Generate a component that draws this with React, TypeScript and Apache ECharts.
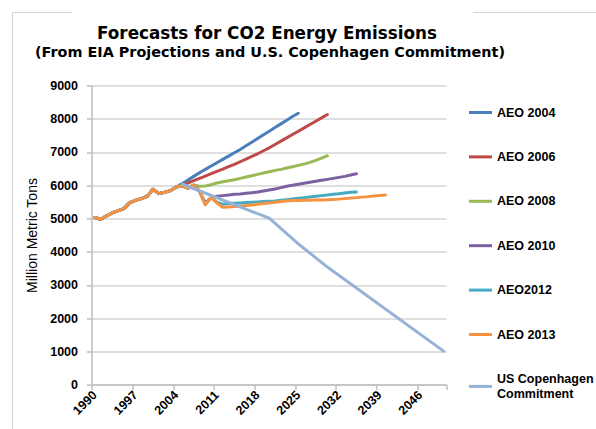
import React, { useEffect, useRef } from "react";
import * as echarts from "echarts";

// Category years 1990..2050
const years: string[] = Array.from({ length: 61 }, (_, i) => String(1990 + i));

// Historical emissions 1990..2011 (million metric tons)
const history = [
  5040, 4990, 5090, 5180, 5250, 5310, 5490, 5560, 5610, 5680, 5890, 5760, 5800,
  5850, 5960, 6000, 5920, 6020, 5830, 5430, 5640, 5480,
];

// Projections (first value = first projection year)
const aeo2004Start = 2005;
const aeo2004 = [
  6060, 6170, 6280, 6390, 6490, 6590, 6690, 6790, 6890, 6990, 7090, 7200, 7310,
  7420, 7530, 7640, 7750, 7860, 7970, 8080, 8180,
];
const aeo2006Start = 2005;
const aeo2006 = [
  6010, 6080, 6150, 6220, 6290, 6360, 6430, 6500, 6570, 6640, 6720, 6800, 6880,
  6960, 7050, 7140, 7240, 7340, 7440, 7540, 7640, 7740, 7840, 7940, 8040, 8140,
];
const aeo2008Start = 2006;
const aeo2008 = [
  5960, 6010, 5980, 5990, 6030, 6080, 6120, 6150, 6180, 6220, 6260, 6300, 6340,
  6380, 6420, 6460, 6490, 6530, 6570, 6610, 6650, 6700, 6760, 6830, 6900,
];
const aeo2010Start = 2009;
const aeo2010 = [
  5480, 5640, 5680, 5700, 5720, 5740, 5750, 5770, 5790, 5810, 5840, 5870, 5900,
  5940, 5980, 6010, 6040, 6070, 6100, 6130, 6160, 6190, 6220, 6250, 6280, 6320,
  6360,
];
const aeo2012Start = 2011;
const aeo2012 = [
  5500, 5440, 5460, 5470, 5480, 5490, 5500, 5510, 5520, 5530, 5540, 5560, 5580,
  5600, 5620, 5640, 5660, 5680, 5700, 5720, 5740, 5760, 5780, 5800, 5810,
];
const aeo2013Start = 2012;
const aeo2013 = [
  5350, 5360, 5370, 5380, 5400, 5420, 5440, 5460, 5480, 5500, 5520, 5540, 5550,
  5555, 5560, 5560, 5565, 5570, 5575, 5580, 5595, 5610, 5625, 5640, 5655, 5670,
  5690, 5705, 5720,
];
const copenhagenYears = ["2005", "2020", "2025", "2030", "2050"];
const copenhagen = [6050, 5020, 4250, 3550, 1020];

const seriesNames = [
  "AEO 2004",
  "AEO 2006",
  "AEO 2008",
  "AEO 2010",
  "AEO2012",
  "AEO 2013",
  "US Copenhagen Commitment",
];
const colors = [
  "#4A7EBB",
  "#BE4B48",
  "#98B954",
  "#7D60A0",
  "#46AAC5",
  "#F69240",
  "#95B3D7",
];

function build(start: number, proj: number[]) {
  return [...history.slice(0, start - 1990), ...proj];
}

export default function App() {
  const ref = useRef<HTMLDivElement>(null);
  useEffect(() => {
    if (!ref.current) return;
    const chart = echarts.init(ref.current, undefined, { renderer: "svg" });
    const datasets = [
      build(aeo2004Start, aeo2004),
      build(aeo2006Start, aeo2006),
      build(aeo2008Start, aeo2008),
      build(aeo2010Start, aeo2010),
      build(aeo2012Start, aeo2012),
      build(aeo2013Start, aeo2013),
    ];
    const lineSeries: any[] = datasets.map((d, i) => ({
      name: seriesNames[i],
      type: "line",
      data: d,
      showSymbol: false,
      symbol: "none",
      smooth: false,
      lineStyle: { width: 3, color: colors[i], cap: "round", join: "round" },
      itemStyle: { color: colors[i] },
    }));
    lineSeries.push({
      name: seriesNames[6],
      type: "line",
      data: copenhagenYears.map((y, i) => [y, copenhagen[i]]),
      showSymbol: false,
      symbol: "none",
      lineStyle: { width: 3, color: colors[6], cap: "round", join: "round" },
      itemStyle: { color: colors[6] },
    });

    chart.setOption({
      animation: false,
      backgroundColor: "#ffffff",
      grid: {
        left: 92,
        right: 149.5,
        top: 86,
        bottom: 44,
        containLabel: false,
        outerBoundsMode: "none",
      },
      graphic: [
        {
          type: "polyline",
          shape: { points: [[12.5, 440], [12.5, 12.5], [72, 12.5]] },
          style: { stroke: "#d4d4d4", lineWidth: 1, fill: null },
          silent: true,
        },
        {
          type: "line",
          shape: { x1: 473, y1: 12.5, x2: 600, y2: 12.5 },
          style: { stroke: "#d4d4d4", lineWidth: 1 },
          silent: true,
        },
        {
          type: "text",
          x: 267,
          y: 33,
          style: {
            text: "Forecasts for CO2 Energy Emissions",
            fontFamily: "DejaVu Sans",
            fontWeight: "bold",
            fontSize: 16.8,
            fill: "#000000",
            textAlign: "center",
            textVerticalAlign: "middle",
          },
        },
        {
          type: "text",
          x: 270,
          y: 52,
          style: {
            text: "(From EIA Projections and U.S. Copenhagen Commitment)",
            fontFamily: "DejaVu Sans",
            fontWeight: "bold",
            fontSize: 14.4,
            fill: "#000000",
            textAlign: "center",
            textVerticalAlign: "middle",
          },
        },
      ],
      legend: {
        orient: "vertical",
        left: 464,
        top: 100,
        itemWidth: 23,
        itemHeight: 3,
        itemGap: 29.4,
        icon: "rect",
        data: seriesNames,
        formatter: (name: string) =>
          name === "US Copenhagen Commitment" ? "US Copenhagen\nCommitment" : name,
        textStyle: {
          fontFamily: "Liberation Sans",
          fontWeight: "bold",
          fontSize: 12.5,
          color: "#000000",
          lineHeight: 15,
        },
      },
      xAxis: {
        type: "category",
        data: years,
        boundaryGap: true,
        axisLine: { show: true, lineStyle: { color: "#bfbfbf", width: 1.5 } },
        axisTick: {
          show: true,
          interval: 6,
          length: 5,
          lineStyle: { color: "#bfbfbf", width: 1.5 },
        },
        axisLabel: {
          interval: 6,
          rotate: 45,
          margin: 8,
          fontFamily: "Liberation Sans",
          fontWeight: "bold",
          fontSize: 12.5,
          color: "#000000",
        },
        splitLine: { show: false },
      },
      yAxis: {
        type: "value",
        min: 0,
        max: 9000,
        interval: 1000,
        name: "Million Metric Tons",
        nameLocation: "middle",
        nameGap: 47,
        nameTextStyle: {
          fontFamily: "Liberation Sans",
          fontSize: 14,
          color: "#000000",
        },
        axisLine: { show: true, lineStyle: { color: "#bfbfbf", width: 1.5 } },
        axisTick: { show: true, length: 5, lineStyle: { color: "#bfbfbf", width: 1.5 } },
        axisLabel: {
          margin: 14,
          formatter: (v: number) => String(v),
          fontFamily: "Liberation Sans",
          fontWeight: "bold",
          fontSize: 12.5,
          color: "#000000",
        },
        splitLine: { show: true, lineStyle: { color: "#d4d4d4", width: 1.5 } },
      },
      series: lineSeries,
    });
    return () => chart.dispose();
  }, []);
  return (
    <div
      ref={ref}
      style={{ position: "fixed", left: 0, top: 0, width: 596, height: 429 }}
    />
  );
}
